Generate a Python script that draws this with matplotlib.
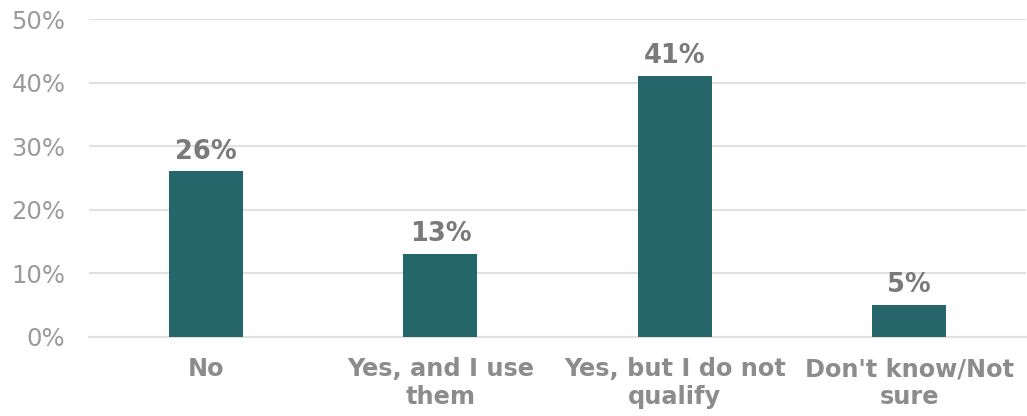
import matplotlib.pyplot as plt
from matplotlib.ticker import PercentFormatter

plt.rcParams["font.family"] = ["DejaVu Sans"]

categories = ["No", "Yes, and I use\nthem", "Yes, but I do not\nqualify", "Don't know/Not\nsure"]
shares = [26, 13, 41, 5]
y_ticks = [0, 10, 20, 30, 40, 50]

bar_color = "#25666b"
grid_color = "#e0e0e0"

fig = plt.figure(figsize=(10.27, 4.16), dpi=100)
ax = fig.add_axes([0.0867, 0.191, 0.9125, 0.763])

x = range(len(categories))
bars = ax.bar(x, shares, width=0.316, color=bar_color, zorder=3)

for rect, v in zip(bars, shares):
    ax.annotate(f"{v}%", (rect.get_x() + rect.get_width() / 2, v),
                xytext=(0, 5), textcoords="offset points",
                ha="center", va="bottom", fontsize=18.5, fontweight="bold",
                color="#7a7a7a")

ax.set_xlim(-0.5, len(categories) - 0.5)
ax.set_ylim(0, 50)
ax.set_yticks(y_ticks)
ax.yaxis.set_major_formatter(PercentFormatter(decimals=0))
ax.set_xticks(list(x))
ax.set_xticklabels(categories, fontsize=17.3, fontweight="bold", color="#8c8c8c",
                   linespacing=1.2)
ax.tick_params(axis="y", length=0, pad=17, labelsize=17.5, labelcolor="#9a9a9a")
ax.tick_params(axis="x", length=0, pad=15)

ax.grid(axis="y", color=grid_color, linewidth=1.5, zorder=0)
for side in ["top", "right", "left"]:
    ax.spines[side].set_visible(False)
ax.spines["bottom"].set_color(grid_color)
ax.spines["bottom"].set_linewidth(1.5)

fig.savefig("out.png", dpi=100)
